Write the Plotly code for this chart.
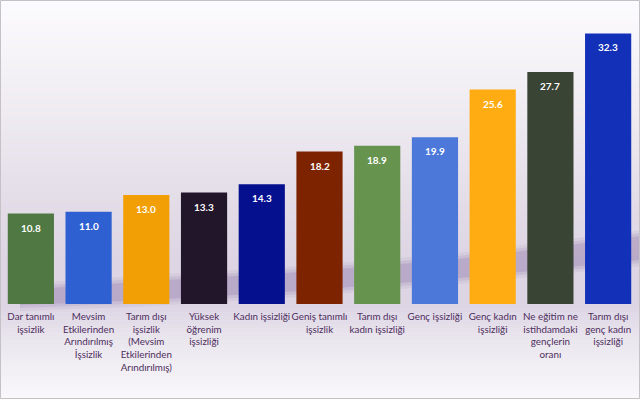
import plotly.graph_objects as go

categories = ["dar", "mevsim", "tarim_disi", "yuksek", "kadin", "genis",
              "tarim_disi_kadin", "genc", "genc_kadin", "neet", "tarim_disi_genc_kadin"]
tick_labels = [
    "Dar tanımlı<br>işsizlik",
    "Mevsim<br>Etkilerinden<br>Arındırılmış<br>İşsizlik",
    "Tarım dışı<br>işsizlik<br>(Mevsim<br>Etkilerinden<br>Arındırılmış)",
    "Yüksek<br>öğrenim<br>işsizliği",
    "Kadın işsizliği",
    "Geniş tanımlı<br>işsizlik",
    "Tarım dışı<br>kadın işsizliği",
    "Genç işsizliği",
    "Genç kadın<br>işsizliği",
    "Ne eğitim ne<br>istihdamdaki<br>gençlerin<br>oranı",
    "Tarım dışı<br>genç kadın<br>işsizliği",
]
values = [10.8, 11.0, 13.0, 13.3, 14.3, 18.2, 18.9, 19.9, 25.6, 27.7, 32.3]
bar_colors = ["#4f7842", "#2f60d2", "#f29f05", "#22162b", "#05108f", "#7e2300",
              "#66944f", "#4c78da", "#ffab12", "#3a4434", "#1230b8"]

W, H = 640, 399
M_L, M_R, M_T, M_B = 2, 3, 25, 95
plot_h = H - M_T - M_B


def py(pix):
    """pixel y (from top of figure) -> paper y"""
    return (H - M_B - pix) / plot_h


def px(pix):
    return (pix - M_L) / (W - M_L - M_R)


def hex2rgb(h):
    h = h.lstrip("#")
    return tuple(int(h[i:i + 2], 16) for i in (0, 2, 4))


def lerp(c1, c2, t):
    a, b = hex2rgb(c1), hex2rgb(c2)
    return "rgb(%d,%d,%d)" % tuple(round(a[i] + (b[i] - a[i]) * t) for i in range(3))


# background vertical gradient stops (pixel y, colour)
stops = [(0, "#fcfbfd"), (80, "#f3f0f5"), (180, "#e6e0ea"), (260, "#ddd5e3"),
         (305, "#ddd5e4"), (340, "#eae6ee"), (399, "#f9f8fb")]
shapes = []
step = 4
for y0 in range(0, H, step):
    y1 = min(H, y0 + step)
    ym = (y0 + y1) / 2
    for (a, ca), (b, cb) in zip(stops[:-1], stops[1:]):
        if a <= ym <= b:
            col = lerp(ca, cb, (ym - a) / (b - a))
            break
    shapes.append(dict(type="rect", xref="paper", yref="paper", layer="below",
                       x0=px(0), x1=px(W), y0=py(y1), y1=py(y0),
                       fillcolor=col, line=dict(width=0)))

# soft purple swoosh behind the bars
for k, (op, d) in enumerate([(0.10, 8), (0.15, 5), (0.25, 2)]):
    pts = [(20, 305 + d - 2), (150, 298 + d), (300, 289 + d), (450, 277 + d), (640, 258 + d),
           (640, 238 - d), (450, 262 - d), (300, 274 - d), (150, 283 - d), (20, 292 - d)]
    path = "M " + " L ".join("%f,%f" % (px(x), py(y)) for x, y in pts) + " Z"
    shapes.append(dict(type="path", xref="paper", yref="paper", layer="below",
                       path=path, fillcolor="#8e72a8", opacity=op, line=dict(width=0)))

# border
shapes.append(dict(type="rect", xref="paper", yref="paper", layer="above",
                   x0=px(0.5), x1=px(W - 0.5), y0=py(H - 0.5), y1=py(0.5),
                   line=dict(color="#c4c2c6", width=1), fillcolor="rgba(0,0,0,0)"))

fig = go.Figure()
fig.add_trace(go.Bar(
    x=categories, y=values,
    marker=dict(color=bar_colors, line=dict(width=0)),
    hoverinfo="skip",
))

annotations = [dict(x=c, y=v, xref="x", yref="y", text="%.1f" % v, showarrow=False,
                    yshift=-14, yanchor="middle",
                    font=dict(family="Lato", size=10, color="#ffffff", weight="bold"))
               for c, v in zip(categories, values)]

fig.update_layout(
    width=W, height=H,
    margin=dict(l=M_L, r=M_R, t=M_T, b=M_B),
    paper_bgcolor="#f7f5f9", plot_bgcolor="rgba(0,0,0,0)",
    bargap=0.2, showlegend=False,
    shapes=shapes, annotations=annotations,
    font=dict(family="Lato", color="#4e2f5e"),
)
fig.update_xaxes(tickmode="array", tickvals=categories, ticktext=tick_labels,
                 tickangle=0, tickfont=dict(size=9.8, color="#4e2f5e", family="Lato"),
                 ticklabelstandoff=5,
                 showline=False, showgrid=False, zeroline=False, ticks="")
fig.update_yaxes(range=[0, 33.3], visible=False, showgrid=False, zeroline=False)

fig.write_html("out.html", config={"displayModeBar": False},
               post_script="document.body.style.margin='0';")
